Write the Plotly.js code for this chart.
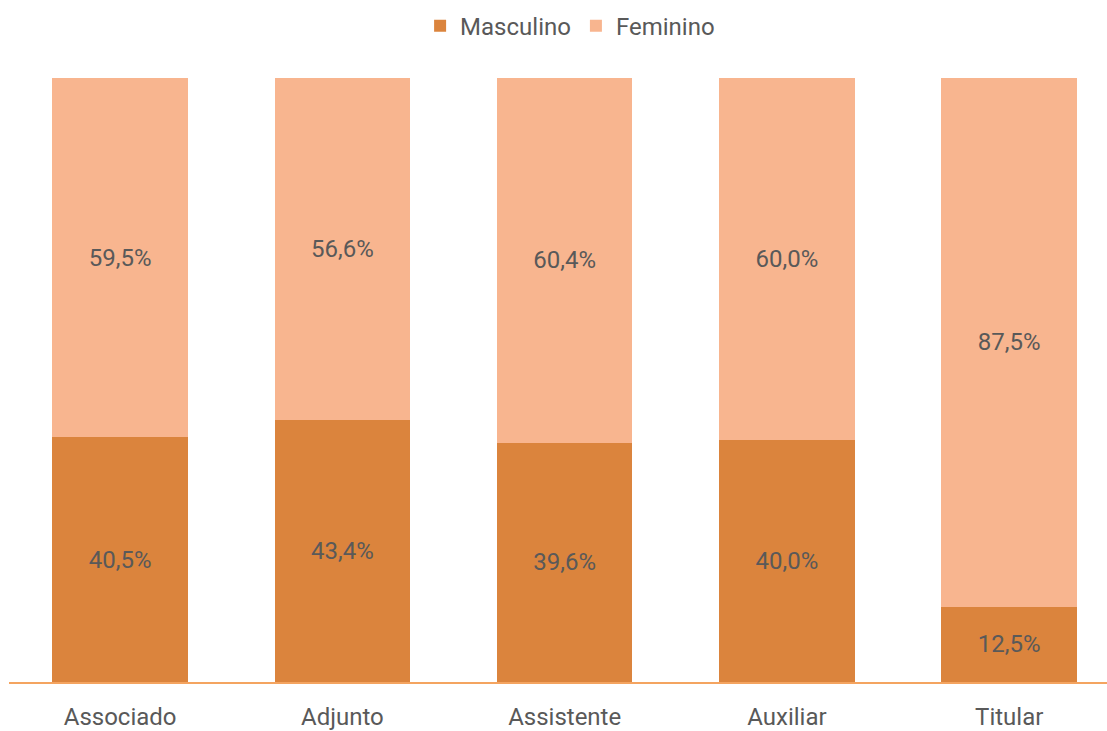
<!DOCTYPE html>
<html><head><meta charset="utf-8">
<script src="https://cdn.plot.ly/plotly-3.0.1.min.js"></script>
<style>html,body{margin:0;padding:0;background:#fff}#chart{width:1107px;height:731px}</style>
</head><body><div id="chart"></div>
<script>
const categories = ["Associado", "Adjunto", "Assistente", "Auxiliar", "Titular"];
const masculino = [40.5, 43.4, 39.6, 40.0, 12.5];
const feminino = [59.5, 56.6, 60.4, 60.0, 87.5];
const fmt = v => v.toFixed(1).replace('.', ',') + '%';
const font = {family: 'Roboto, "DejaVu Sans", sans-serif', color: '#595959'};
const common = {type: 'bar', x: categories, width: 0.61, textposition: 'inside', insidetextanchor: 'middle',
  textfont: Object.assign({size: 24}, font), hoverinfo: 'none'};
const traces = [
  Object.assign({}, common, {name: 'Masculino', y: masculino, text: masculino.map(fmt), texttemplate: '%{text}',
    marker: {color: '#DB843D', line: {width: 0}}}),
  Object.assign({}, common, {name: 'Feminino', y: feminino, text: feminino.map(fmt), texttemplate: '%{text}',
    marker: {color: '#F8B58F', line: {width: 0}}})
];
const layout = {
  width: 1107, height: 731, barmode: 'stack',
  margin: {l: 9, r: 0, t: 78, b: 49},
  paper_bgcolor: '#fff', plot_bgcolor: '#fff',
  font: Object.assign({size: 24}, font),
  showlegend: true,
  legend: {orientation: 'h', x: 0.515, xref: 'container', xanchor: 'center', y: 0.995, yref: 'container', yanchor: 'top',
    font: Object.assign({size: 24}, font), traceorder: 'normal', itemwidth: 30, bgcolor: 'rgba(0,0,0,0)'},
  xaxis: {range: [-0.5, 4.44], showgrid: false, zeroline: false, showline: true, linecolor: '#F4A460', linewidth: 2,
    ticks: '', ticklabelstandoff: 12, tickfont: Object.assign({size: 24}, font), fixedrange: true},
  yaxis: {range: [0, 100], visible: false, showgrid: false, zeroline: false, fixedrange: true},
  uniformtext: {mode: false}
};
Plotly.newPlot('chart', traces, layout, {displayModeBar: false, staticPlot: true});
</script></body></html>
